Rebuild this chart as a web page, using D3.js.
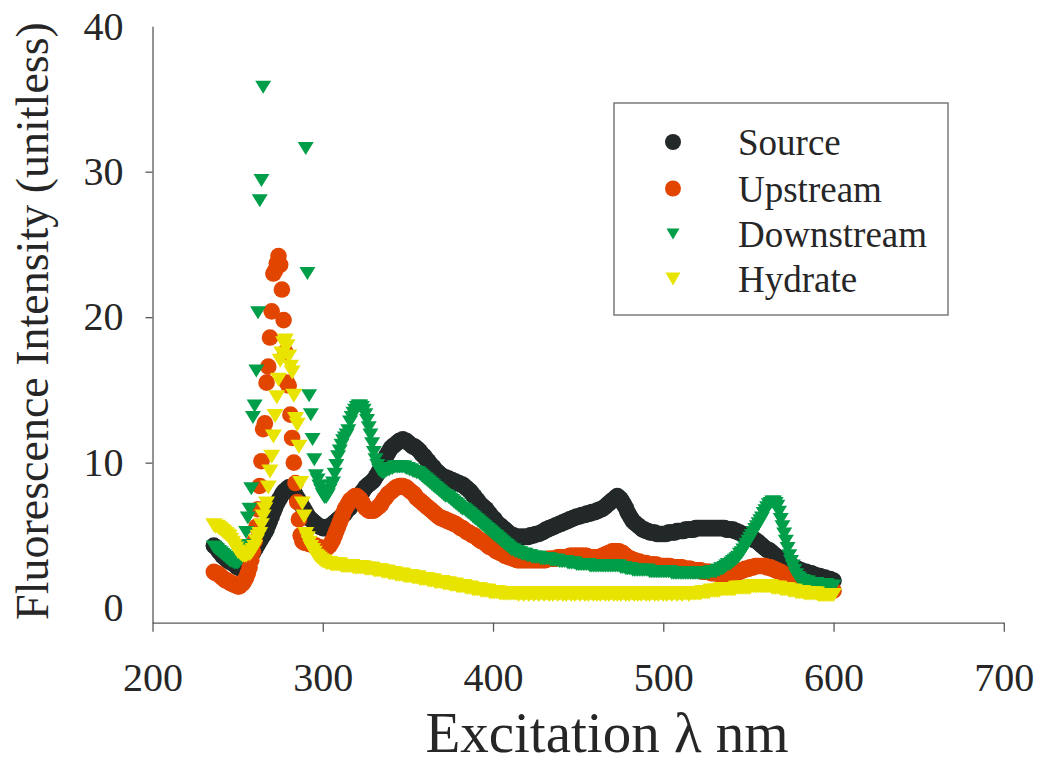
<!DOCTYPE html>
<html>
<head>
<meta charset="utf-8">
<script src="https://cdn.jsdelivr.net/npm/d3@7"></script>
<style>
  body { margin: 0; background: #fff; }
  svg text { font-family: "Liberation Serif", "Times New Roman", serif; fill: #262626; }
</style>
</head>
<body>
<svg id="chart" width="1042" height="765"></svg>
<script>

// excitation wavelengths, 1 nm steps (236 .. 600)
var wavelengths = d3.range(236, 601);

var source = [
  4.3, 4.2, 4.1, 3.9,
  3.8, 3.6, 3.5, 3.4, 3.3, 3.2, 3.2, 3.1, 3.0, 2.9,
  2.8, 2.8, 2.7, 2.8, 2.9, 3.1, 3.3, 3.4, 3.6, 3.8,
  4.0, 4.2, 4.4, 4.6, 4.8, 5.0, 5.2, 5.4, 5.7, 6.0,
  6.3, 6.6, 6.9, 7.2, 7.4, 7.6, 7.8, 8.0, 8.1, 8.2,
  8.3, 8.3, 8.2, 8.0, 7.8, 7.6, 7.4, 7.2, 7.0, 6.8,
  6.6, 6.4, 6.2, 6.1, 6.0, 5.9, 5.8, 5.7, 5.6, 5.6,
  5.5, 5.5, 5.5, 5.6, 5.6, 5.7, 5.8, 5.9, 6.0, 6.1,
  6.2, 6.3, 6.4, 6.5, 6.7, 6.8, 6.9, 7.1, 7.2, 7.4,
  7.5, 7.7, 7.8, 8.0, 8.1, 8.3, 8.4, 8.5, 8.6, 8.7,
  8.8, 9.0, 9.2, 9.4, 9.6, 9.8, 10.1, 10.4, 10.6, 10.8,
  11.0, 11.1, 11.2, 11.3, 11.4, 11.5, 11.5, 11.6, 11.5, 11.5,
  11.4, 11.3, 11.2, 11.1, 11.1, 11.0, 10.9, 10.8, 10.6, 10.5,
  10.4, 10.2, 10.1, 9.9, 9.8, 9.7, 9.5, 9.4, 9.3, 9.2,
  9.1, 9.0, 9.0, 8.9, 8.9, 8.8, 8.8, 8.7, 8.7, 8.6,
  8.6, 8.5, 8.5, 8.4, 8.3, 8.2, 8.1, 8.0, 7.8, 7.7,
  7.5, 7.4, 7.2, 7.1, 7.0, 6.9, 6.8, 6.6, 6.5, 6.3,
  6.2, 6.1, 5.9, 5.8, 5.7, 5.6, 5.5, 5.4, 5.3, 5.2,
  5.1, 5.0, 5.0, 4.9, 4.9, 4.9, 4.9, 4.9, 4.9, 4.9,
  4.9, 4.9, 5.0, 5.0, 5.0, 5.1, 5.1, 5.1, 5.2, 5.2,
  5.3, 5.4, 5.4, 5.5, 5.5, 5.6, 5.6, 5.7, 5.7, 5.8,
  5.8, 5.9, 5.9, 6.0, 6.0, 6.1, 6.1, 6.2, 6.2, 6.3,
  6.3, 6.3, 6.4, 6.4, 6.4, 6.5, 6.5, 6.5, 6.6, 6.6,
  6.6, 6.7, 6.7, 6.8, 6.8, 6.9, 7.0, 7.1, 7.2, 7.3,
  7.4, 7.5, 7.6, 7.7, 7.6, 7.5, 7.3, 7.1, 6.9, 6.6,
  6.4, 6.2, 6.0, 5.9, 5.8, 5.7, 5.6, 5.5, 5.4, 5.4,
  5.3, 5.3, 5.2, 5.2, 5.2, 5.2, 5.1, 5.1, 5.1, 5.1,
  5.1, 5.1, 5.1, 5.2, 5.2, 5.2, 5.2, 5.2, 5.3, 5.3,
  5.3, 5.3, 5.3, 5.4, 5.4, 5.4, 5.4, 5.4, 5.4, 5.5,
  5.5, 5.5, 5.5, 5.5, 5.5, 5.5, 5.5, 5.5, 5.5, 5.5,
  5.5, 5.5, 5.5, 5.5, 5.5, 5.5, 5.5, 5.4, 5.4, 5.4,
  5.4, 5.4, 5.3, 5.3, 5.2, 5.2, 5.1, 5.1, 5.0, 5.0,
  4.9, 4.9, 4.8, 4.7, 4.7, 4.6, 4.5, 4.4, 4.3, 4.2,
  4.1, 4.0, 4.0, 3.9, 3.8, 3.7, 3.6, 3.5, 3.4, 3.3,
  3.3, 3.2, 3.1, 3.0, 3.0, 2.9, 2.8, 2.8, 2.7, 2.7,
  2.6, 2.6, 2.5, 2.5, 2.5, 2.4, 2.4, 2.4, 2.3, 2.3,
  2.2, 2.2, 2.2, 2.1, 2.1, 2.1, 2.0, 2.0, 2.0, 1.9,
  1.9
];

var upstream = [
  2.5, 2.4, 2.4, 2.3,
  2.2, 2.1, 2.0, 1.9, 1.9, 1.8, 1.7, 1.7, 1.6, 1.6,
  1.5, 1.5, 1.6, 1.7, 1.9, 2.1, 2.4, 2.8, 3.3, 3.9,
  4.6, 5.6, 6.8, 8.4, 10.1, 12.3, 12.7, 15.5, 16.6, 18.6,
  20.4, 23.0, 23.2, 23.7, 24.2, 23.6, 21.9, 19.8, 17.6, 15.5,
  15.3, 13.3, 11.7, 10.0, 8.6, 7.3, 6.1, 5.0, 4.6, 4.5,
  4.5, 4.5, 4.4, 4.4, 4.4, 4.3, 4.3, 4.2, 4.2, 4.1,
  4.1, 4.1, 4.1, 4.2, 4.3, 4.5, 4.7, 5.0, 5.3, 5.6,
  5.9, 6.2, 6.5, 6.8, 7.0, 7.2, 7.4, 7.5, 7.6, 7.7,
  7.7, 7.6, 7.5, 7.3, 7.1, 6.9, 6.8, 6.7, 6.7, 6.7,
  6.7, 6.8, 6.9, 7.0, 7.1, 7.3, 7.5, 7.6, 7.8, 7.9,
  8.0, 8.1, 8.2, 8.3, 8.3, 8.4, 8.4, 8.4, 8.3, 8.3,
  8.2, 8.1, 8.0, 7.9, 7.8, 7.6, 7.5, 7.4, 7.3, 7.2,
  7.1, 7.0, 6.9, 6.8, 6.7, 6.6, 6.5, 6.4, 6.3, 6.2,
  6.2, 6.1, 6.1, 6.0, 6.0, 5.9, 5.9, 5.8, 5.8, 5.7,
  5.6, 5.5, 5.5, 5.4, 5.3, 5.2, 5.2, 5.1, 5.0, 5.0,
  4.9, 4.8, 4.7, 4.6, 4.6, 4.5, 4.4, 4.3, 4.2, 4.2,
  4.1, 4.0, 3.9, 3.9, 3.8, 3.8, 3.7, 3.6, 3.6, 3.5,
  3.5, 3.5, 3.4, 3.4, 3.3, 3.3, 3.3, 3.3, 3.3, 3.3,
  3.3, 3.3, 3.3, 3.3, 3.3, 3.3, 3.3, 3.3, 3.3, 3.3,
  3.3, 3.3, 3.4, 3.4, 3.4, 3.4, 3.4, 3.4, 3.5, 3.5,
  3.5, 3.5, 3.5, 3.5, 3.5, 3.6, 3.6, 3.6, 3.6, 3.6,
  3.6, 3.6, 3.6, 3.6, 3.6, 3.6, 3.5, 3.5, 3.5, 3.5,
  3.5, 3.5, 3.5, 3.5, 3.6, 3.6, 3.7, 3.7, 3.8, 3.8,
  3.9, 3.9, 3.9, 3.9, 3.9, 3.8, 3.8, 3.7, 3.6, 3.5,
  3.4, 3.4, 3.3, 3.3, 3.2, 3.2, 3.2, 3.1, 3.1, 3.1,
  3.1, 3.0, 3.0, 3.0, 3.0, 3.0, 3.0, 2.9, 2.9, 2.9,
  2.9, 2.9, 2.9, 2.9, 2.9, 2.8, 2.8, 2.8, 2.8, 2.8,
  2.8, 2.8, 2.7, 2.7, 2.7, 2.7, 2.7, 2.6, 2.6, 2.6,
  2.6, 2.6, 2.6, 2.5, 2.5, 2.5, 2.5, 2.5, 2.4, 2.4,
  2.4, 2.4, 2.4, 2.3, 2.3, 2.3, 2.3, 2.3, 2.3, 2.3,
  2.3, 2.3, 2.4, 2.4, 2.5, 2.5, 2.6, 2.6, 2.7, 2.7,
  2.7, 2.8, 2.8, 2.8, 2.9, 2.9, 2.9, 2.9, 2.9, 2.9,
  2.9, 2.8, 2.8, 2.8, 2.7, 2.7, 2.6, 2.6, 2.5, 2.5,
  2.4, 2.3, 2.3, 2.2, 2.1, 2.0, 2.0, 1.9, 1.8, 1.8,
  1.7, 1.7, 1.6, 1.6, 1.5, 1.5, 1.5, 1.4, 1.4, 1.4,
  1.4, 1.3, 1.3, 1.3, 1.3, 1.3, 1.3, 1.2, 1.2, 1.2,
  1.2
];

// null = above the 40 axis maximum, not plotted
var downstream = [
  4.2, 4.1, 4.0, 3.9,
  3.8, 3.7, 3.6, 3.5, 3.4, 3.3, 3.2, 3.2, 3.1, 3.1,
  3.1, 3.2, 3.4, 3.7, 4.3, 5.2, 6.2, 6.8, 8.2, 13.1,
  13.9, 16.3, 20.3, 28.0, 29.4, 35.8, null, null, null, null,
  null, null, null, null, null, null, null, null, null, null,
  null, null, null, null, null, null, null, null, null, null,
  31.6, 23.0, 14.6, 13.3, 11.6, 10.2, 9.1, 8.8, 8.4, 8.1,
  7.8, 7.6, 7.6, 7.8, 8.1, 8.4, 8.6, 9.2, 9.8, 10.4,
  10.8, 11.2, 11.5, 11.7, 11.9, 12.2, 12.8, 13.1, 13.4, 13.6,
  13.8, 13.9, 13.9, 13.8, 13.6, 13.3, 12.9, 12.4, 11.9, 11.3,
  10.7, 10.2, 9.8, 9.5, 9.4, 9.3, 9.3, 9.4, 9.5, 9.5,
  9.6, 9.6, 9.7, 9.7, 9.7, 9.7, 9.7, 9.7, 9.7, 9.6,
  9.6, 9.5, 9.5, 9.4, 9.4, 9.3, 9.3, 9.2, 9.1, 9.0,
  8.9, 8.8, 8.7, 8.6, 8.5, 8.4, 8.3, 8.2, 8.1, 8.0,
  7.9, 7.8, 7.7, 7.7, 7.6, 7.5, 7.4, 7.3, 7.2, 7.1,
  7.0, 6.9, 6.8, 6.8, 6.7, 6.6, 6.5, 6.4, 6.3, 6.2,
  6.1, 6.0, 5.9, 5.8, 5.7, 5.6, 5.5, 5.4, 5.3, 5.2,
  5.1, 5.0, 4.9, 4.8, 4.7, 4.6, 4.5, 4.4, 4.3, 4.2,
  4.1, 4.0, 4.0, 3.9, 3.9, 3.8, 3.8, 3.7, 3.7, 3.7,
  3.6, 3.6, 3.6, 3.5, 3.5, 3.5, 3.5, 3.5, 3.4, 3.4,
  3.4, 3.4, 3.4, 3.4, 3.3, 3.3, 3.3, 3.3, 3.3, 3.2,
  3.2, 3.2, 3.2, 3.2, 3.1, 3.1, 3.1, 3.1, 3.1, 3.0,
  3.0, 3.0, 3.0, 3.0, 3.0, 3.0, 3.0, 2.9, 2.9, 2.9,
  2.9, 2.9, 2.9, 2.9, 2.9, 2.9, 2.9, 2.9, 2.9, 2.9,
  2.9, 2.9, 2.9, 2.9, 2.9, 2.8, 2.8, 2.8, 2.7, 2.7,
  2.7, 2.7, 2.6, 2.6, 2.6, 2.6, 2.6, 2.6, 2.6, 2.6,
  2.6, 2.6, 2.5, 2.5, 2.5, 2.5, 2.5, 2.5, 2.5, 2.5,
  2.5, 2.5, 2.5, 2.5, 2.5, 2.4, 2.4, 2.4, 2.4, 2.4,
  2.4, 2.4, 2.4, 2.4, 2.4, 2.4, 2.4, 2.4, 2.4, 2.4,
  2.4, 2.4, 2.4, 2.4, 2.4, 2.4, 2.4, 2.4, 2.5, 2.5,
  2.5, 2.5, 2.6, 2.6, 2.7, 2.7, 2.8, 2.9, 3.0, 3.0,
  3.1, 3.2, 3.3, 3.4, 3.5, 3.7, 3.8, 4.0, 4.2, 4.4,
  4.6, 4.8, 5.0, 5.2, 5.4, 5.6, 5.8, 6.0, 6.2, 6.5,
  6.7, 6.9, 7.1, 7.2, 7.3, 7.3, 7.2, 7.0, 6.6, 6.1,
  5.6, 5.1, 4.6, 4.1, 3.6, 3.2, 2.9, 2.6, 2.3, 2.1,
  2.0, 1.9, 1.9, 1.8, 1.8, 1.8, 1.7, 1.7, 1.7, 1.7,
  1.7, 1.6, 1.6, 1.6, 1.6, 1.6, 1.6, 1.5, 1.5, 1.5,
  1.5
];

var hydrate = [
  5.7, 5.6, 5.6, 5.5,
  5.4, 5.3, 5.2, 5.1, 5.0, 4.9, 4.7, 4.5, 4.3, 4.1,
  3.9, 3.8, 3.7, 3.6, 3.6, 3.6, 3.7, 3.7, 3.8, 4.0,
  4.2, 4.6, 4.9, 5.1, 5.7, 6.3, 6.8, 7.2, 8.3, 9.4,
  10.4, 11.8, 13.2, 14.5, 15.7, 17.0, 17.5, 18.2, 18.4, 18.0,
  17.3, 16.6, 16.2, 14.6, 13.0, 12.6, 11.1, 8.6, 7.2, 6.3,
  5.1, 4.8, 4.5, 4.2, 4.0, 3.8, 3.6, 3.5, 3.4, 3.3,
  3.2, 3.2, 3.1, 3.1, 3.1, 3.0, 3.0, 3.0, 3.0, 3.0,
  3.0, 2.9, 2.9, 2.9, 2.9, 2.9, 2.9, 2.9, 2.8, 2.8,
  2.8, 2.8, 2.8, 2.8, 2.8, 2.7, 2.7, 2.7, 2.7, 2.7,
  2.6, 2.6, 2.6, 2.6, 2.6, 2.5, 2.5, 2.5, 2.5, 2.4,
  2.4, 2.4, 2.4, 2.3, 2.3, 2.3, 2.3, 2.3, 2.2, 2.2,
  2.2, 2.2, 2.2, 2.1, 2.1, 2.1, 2.1, 2.0, 2.0, 2.0,
  2.0, 2.0, 1.9, 1.9, 1.9, 1.9, 1.8, 1.8, 1.8, 1.8,
  1.8, 1.7, 1.7, 1.7, 1.7, 1.6, 1.6, 1.6, 1.6, 1.5,
  1.5, 1.5, 1.5, 1.5, 1.4, 1.4, 1.4, 1.4, 1.3, 1.3,
  1.3, 1.3, 1.3, 1.2, 1.2, 1.2, 1.2, 1.2, 1.1, 1.1,
  1.1, 1.1, 1.1, 1.1, 1.0, 1.0, 1.0, 1.0, 1.0, 1.0,
  1.0, 1.0, 1.0, 1.0, 1.0, 0.9, 1.0, 1.0, 0.9, 1.0,
  1.0, 0.9, 1.0, 1.0, 0.9, 1.0, 1.0, 0.9, 1.0, 1.0,
  0.9, 1.0, 1.0, 0.9, 1.0, 0.9, 1.0, 1.0, 0.9, 1.0,
  1.0, 0.9, 1.0, 0.9, 1.0, 1.0, 0.9, 1.0, 0.9, 1.0,
  1.0, 0.9, 1.0, 1.0, 0.9, 1.0, 0.9, 1.0, 1.0, 0.9,
  1.0, 0.9, 1.0, 0.9, 1.0, 1.0, 0.9, 1.0, 0.9, 1.0,
  1.0, 0.9, 1.0, 0.9, 1.0, 0.9, 1.0, 1.0, 0.9, 1.0,
  0.9, 1.0, 1.0, 0.9, 1.0, 0.9, 1.0, 0.9, 1.0, 1.0,
  0.9, 1.0, 0.9, 1.0, 1.0, 0.9, 1.0, 0.9, 1.0, 1.0,
  0.9, 1.0, 0.9, 1.0, 1.0, 0.9, 1.0, 1.0, 0.9, 1.0,
  1.0, 0.9, 1.0, 1.0, 1.0, 0.9, 1.0, 1.0, 1.0, 1.0,
  1.0, 1.0, 1.0, 1.1, 1.1, 1.1, 1.1, 1.1, 1.2, 1.2,
  1.2, 1.2, 1.2, 1.2, 1.3, 1.3, 1.3, 1.3, 1.3, 1.3,
  1.3, 1.3, 1.3, 1.4, 1.4, 1.4, 1.4, 1.4, 1.4, 1.4,
  1.4, 1.4, 1.5, 1.5, 1.5, 1.5, 1.5, 1.5, 1.5, 1.5,
  1.5, 1.5, 1.5, 1.5, 1.4, 1.4, 1.4, 1.4, 1.4, 1.3,
  1.3, 1.3, 1.3, 1.3, 1.2, 1.2, 1.2, 1.2, 1.1, 1.1,
  1.1, 1.1, 1.1, 1.0, 1.0, 1.0, 1.0, 1.0, 1.0, 1.0,
  1.0, 0.9, 0.9, 0.9, 0.9, 0.9, 0.9, 0.9, 0.9, 0.9,
  0.9
];

var xTicks = [200, 300, 400, 500, 600, 700];
var yTicks = [0, 10, 20, 30, 40];
var seriesNames = ['Source', 'Upstream', 'Downstream', 'Hydrate'];

var series = [
  { name: seriesNames[0], values: source, color: '#232829', shape: 'circle' },
  { name: seriesNames[1], values: upstream, color: '#e24500', shape: 'circle' },
  { name: seriesNames[2], values: downstream, color: '#009e48', shape: 'triangle' },
  { name: seriesNames[3], values: hydrate, color: '#e8e400', shape: 'triangle' }
];

var svg = d3.select('#chart');
var axisColor = '#595959';

var x = d3.scaleLinear().domain([200, 700]).range([152.5, 1003.8]);
var y = d3.scaleLinear().domain([-1, 40]).range([622.7, 26.2]);

// down-pointing triangle centred on its box
var triPath = function (w, h) {
  return 'M' + (-w / 2) + ',' + (-h / 2) + 'L' + (w / 2) + ',' + (-h / 2) + 'L0,' + (h / 2) + 'Z';
};

// axes
var xAxis = svg.append('g')
  .attr('transform', 'translate(0,' + y.range()[0] + ')')
  .call(d3.axisBottom(x).tickValues(xTicks).tickSize(9).tickSizeOuter(0).tickPadding(31));

var yAxis = svg.append('g')
  .attr('transform', 'translate(' + x.range()[0] + ',0)')
  .call(d3.axisLeft(y).tickValues(yTicks).tickSize(7).tickSizeOuter(0).tickPadding(22));

[xAxis, yAxis].forEach(function (g) {
  g.selectAll('path, line').attr('stroke', axisColor).attr('stroke-width', 1.3);
  g.selectAll('text').attr('font-size', 40).attr('fill', '#262626')
    .style('font-family', '"Liberation Serif", "Times New Roman", serif');
});

// no tick marks at the ends of the value axis
yAxis.selectAll('.tick').filter(function (d) { return d === 0 || d === 40; })
  .select('line').remove();

// markers
series.forEach(function (s) {
  var pts = wavelengths.map(function (w, i) { return { w: w, v: s.values[i] }; })
    .filter(function (p) { return p.v !== null && p.v <= 40; });

  var g = svg.append('g').attr('fill', s.color);

  if (s.shape === 'circle') {
    g.selectAll('circle').data(pts).enter().append('circle')
      .attr('cx', function (p) { return x(p.w); })
      .attr('cy', function (p) { return y(p.v); })
      .attr('r', 8.3);
  } else {
    var path = s.name === 'Hydrate' ? triPath(17, 14) : triPath(16, 13);
    g.selectAll('path').data(pts).enter().append('path')
      .attr('d', path)
      .attr('transform', function (p) { return 'translate(' + x(p.w) + ',' + y(p.v) + ')'; });
  }
});

// axis titles
svg.append('text')
  .attr('x', 607).attr('y', 752)
  .attr('text-anchor', 'middle')
  .attr('font-size', 57)
  .text('Excitation \u03bb nm');

svg.append('text')
  .attr('transform', 'translate(48,321) rotate(-90)')
  .attr('text-anchor', 'middle')
  .attr('font-size', 46)
  .text('Fluorescence Intensity (unitless)');

// legend
var legend = svg.append('g');
legend.append('rect')
  .attr('x', 614).attr('y', 103).attr('width', 334).attr('height', 212)
  .attr('fill', '#fff').attr('stroke', '#7a7a7a').attr('stroke-width', 1.5);

var baselines = [155, 201.5, 247, 292];

series.forEach(function (s, i) {
  var cy = baselines[i] - 13;
  if (s.shape === 'circle') {
    legend.append('circle').attr('cx', 673).attr('cy', cy).attr('r', 8).attr('fill', s.color);
  } else {
    var path = s.name === 'Hydrate' ? triPath(15, 13) : triPath(13, 11);
    legend.append('path').attr('d', path).attr('fill', s.color)
      .attr('transform', 'translate(673,' + cy + ')');
  }
  legend.append('text')
    .attr('x', 738).attr('y', baselines[i])
    .attr('font-size', 37)
    .text(s.name);
});

</script>
</body>
</html>
